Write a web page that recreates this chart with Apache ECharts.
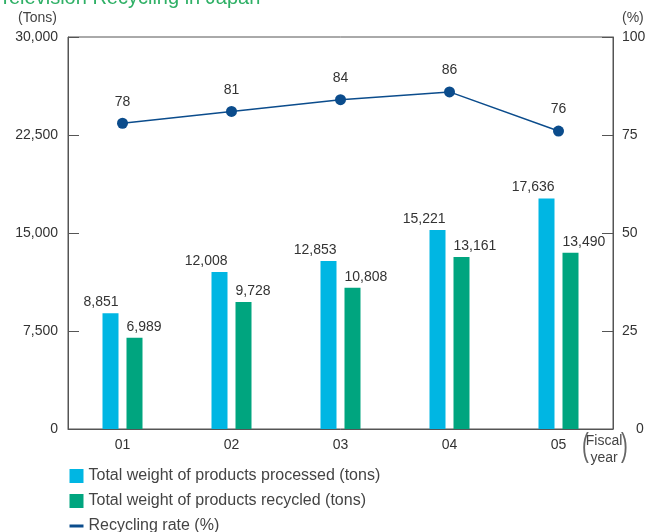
<!DOCTYPE html>
<html>
<head>
<meta charset="utf-8">
<script src="https://cdn.jsdelivr.net/npm/echarts@6/dist/echarts.min.js"></script>
<style>
  html, body { margin: 0; padding: 0; background: #fff; }
  #chart { width: 650px; height: 532px; }
</style>
</head>
<body>
<div id="chart"></div>
<script>
// fiscal years and values
var years = ['01', '02', '03', '04', '05']
var processed = [8851, 12008, 12853, 15221, 17636]
var recycled = [6989, 9728, 10808, 13161, 13490]
var rate = [78, 81, 84, 86, 76]

var FONT = 'Liberation Sans'
var AXIS = '#555'

var chart = echarts.init(document.getElementById('chart'))

var numLabel = function (p) { return p.value.toLocaleString('en-US') }

var option = {
  animation: false,
  textStyle: { fontFamily: FONT },
  title: {
    text: 'Television Recycling in Japan',
    left: -1,
    top: -12,
    padding: 0,
    textStyle: { color: '#2fb066', fontSize: 20, fontWeight: 'normal', fontFamily: FONT }
  },
  grid: {
    left: 68, right: 37, top: 37, bottom: 103,
    outerBoundsMode: 'none',
    containLabel: false,
    show: true, borderColor: AXIS, borderWidth: 1
  },
  legend: {
    orient: 'vertical',
    left: 68,
    top: 468,
    height: 100,
    padding: 0,
    itemWidth: 14,
    itemHeight: 14,
    itemGap: 9,
    textStyle: { fontSize: 16, lineHeight: 16, color: '#444', fontFamily: FONT },
    data: [
      { name: 'Total weight of products processed (tons)', icon: 'rect' },
      { name: 'Total weight of products recycled (tons)', icon: 'rect' },
      { name: 'Recycling rate (%)', itemStyle: { opacity: 0 }, lineStyle: { width: 3 } }
    ]
  },
  xAxis: {
    type: 'category',
    data: years,
    axisLine: { lineStyle: { color: AXIS } },
    axisTick: { show: false },
    axisLabel: { fontSize: 14, color: '#333', margin: 9 }
  },
  yAxis: [
    {
      type: 'value',
      min: 0, max: 30000, interval: 7500,
      name: '(Tons)',
      nameGap: 12,
      nameTextStyle: { fontSize: 14, color: '#444', align: 'right', padding: [0, 11, 0, 0] },
      axisLine: { show: true, lineStyle: { color: AXIS } },
      axisTick: { show: true, inside: true, length: 11, lineStyle: { color: AXIS } },
      axisLabel: { fontSize: 14, color: '#333', margin: 10, formatter: function (v) { return v.toLocaleString('en-US') } },
      splitLine: { show: false }
    },
    {
      type: 'value',
      min: 0, max: 100, interval: 25,
      name: '(%)',
      nameGap: 12,
      nameTextStyle: { fontSize: 14, color: '#444', align: 'left', padding: [0, 0, 0, 9] },
      axisLine: { show: true, lineStyle: { color: AXIS } },
      axisTick: { show: true, inside: true, length: 11, lineStyle: { color: AXIS } },
      axisLabel: {
        fontSize: 14, color: '#333', margin: 9,
        // the zero label sits to the right of the "(Fiscal year)" note
        formatter: function (v) { return v === 0 ? '{z|0}' : String(v) },
        rich: { z: { fontSize: 14, color: '#333', padding: [0, 0, 0, 14] } }
      },
      splitLine: { show: false }
    }
  ],
  series: [
    {
      name: 'Total weight of products processed (tons)',
      type: 'bar',
      data: processed,
      barWidth: 16,
      barGap: '50%',
      itemStyle: { color: '#00b6e3' },
      label: {
        show: true, position: ['100%', -4], align: 'right', verticalAlign: 'bottom',
        fontSize: 14, color: '#333', formatter: numLabel
      }
    },
    {
      name: 'Total weight of products recycled (tons)',
      type: 'bar',
      data: recycled,
      barWidth: 16,
      itemStyle: { color: '#00a57f' },
      label: {
        show: true, position: [0, -4], align: 'left', verticalAlign: 'bottom',
        fontSize: 14, color: '#333', formatter: numLabel
      }
    },
    {
      name: 'Recycling rate (%)',
      type: 'line',
      yAxisIndex: 1,
      data: rate,
      symbol: 'circle',
      symbolSize: 11,
      itemStyle: { color: '#0b4c8c' },
      lineStyle: { color: '#0b4c8c', width: 1.5 },
      label: { show: true, position: 'top', distance: 9, fontSize: 14, color: '#333' }
    }
  ],
  graphic: [
    // x-axis name "(Fiscal year)" with tall parentheses
    { type: 'text', x: 604, y: 433, style: { text: 'Fiscal\nyear', align: 'center', fontSize: 14, lineHeight: 17, fontFamily: FONT, fill: '#444' } },
    { type: 'text', x: 582, y: 430, style: { text: '(', fontSize: 34, fontFamily: FONT, fill: '#666' }, scaleX: 0.6 },
    { type: 'text', x: 621, y: 430, style: { text: ')', fontSize: 34, fontFamily: FONT, fill: '#666' }, scaleX: 0.6 }
  ]
}

chart.setOption(option, true)
</script>
</body>
</html>
